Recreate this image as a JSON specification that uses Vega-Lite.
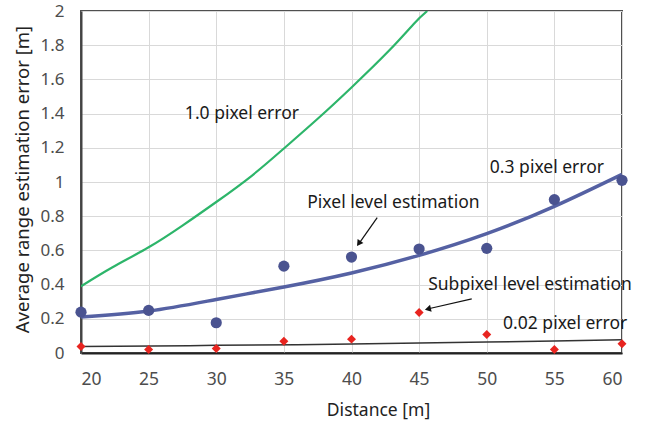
{
  "$schema": "https://vega.github.io/schema/vega-lite/v6.json",
  "width": 541,
  "height": 342,
  "autosize": "none",
  "padding": {"left": 81, "top": 11, "right": 25, "bottom": 68},
  "background": "white",
  "config": {
    "font": "Noto Sans",
    "view": {"stroke": "#505050", "strokeWidth": 2}
  },
  "datasets": {
    "green": [
      {"d": 20, "e": 0.39}, {"d": 22.3, "e": 0.5}, {"d": 25, "e": 0.618}, {"d": 27.5, "e": 0.745},
      {"d": 30, "e": 0.883}, {"d": 32.6, "e": 1.035}, {"d": 35, "e": 1.196}, {"d": 37.5, "e": 1.37},
      {"d": 40, "e": 1.553}, {"d": 42.8, "e": 1.77}, {"d": 44.67, "e": 1.93}, {"d": 45.6, "e": 2.0}
    ],
    "blueCurve": [
      {"d": 20, "e": 0.21}, {"d": 25, "e": 0.245}, {"d": 30, "e": 0.313}, {"d": 35, "e": 0.386},
      {"d": 40, "e": 0.468}, {"d": 45, "e": 0.571}, {"d": 50, "e": 0.698}, {"d": 55, "e": 0.858}, {"d": 60, "e": 1.045}
    ],
    "blackLine": [
      {"d": 20, "e": 0.038}, {"d": 28, "e": 0.042}, {"d": 30, "e": 0.045}, {"d": 36, "e": 0.048}, {"d": 40, "e": 0.053},
      {"d": 45, "e": 0.058}, {"d": 50, "e": 0.064}, {"d": 55, "e": 0.07}, {"d": 60, "e": 0.077}
    ],
    "bluePts": [
      {"d": 20, "e": 0.239}, {"d": 25, "e": 0.249}, {"d": 30, "e": 0.177}, {"d": 35, "e": 0.508},
      {"d": 40, "e": 0.561}, {"d": 45, "e": 0.608}, {"d": 50, "e": 0.612}, {"d": 55, "e": 0.897}, {"d": 60, "e": 1.01}
    ],
    "redPts": [
      {"d": 20, "e": 0.038}, {"d": 25, "e": 0.02}, {"d": 30, "e": 0.026}, {"d": 35, "e": 0.069},
      {"d": 40, "e": 0.081}, {"d": 45, "e": 0.237}, {"d": 50, "e": 0.108}, {"d": 55, "e": 0.02}, {"d": 60, "e": 0.054}
    ],
    "labels": [
      {"d": 31.9, "e": 1.4, "t": "1.0 pixel error"},
      {"d": 54.45, "e": 1.079, "t": "0.3 pixel error"},
      {"d": 43.1, "e": 0.878, "t": "Pixel level estimation"},
      {"d": 53.2, "e": 0.395, "t": "Subpixel level estimation"},
      {"d": 55.8, "e": 0.171, "t": "0.02 pixel error"}
    ],
    "arrows": [
      {"d": 41.9, "e": 0.792, "d2": 40.55, "e2": 0.64},
      {"d": 48.89, "e": 0.317, "d2": 45.7, "e2": 0.259}
    ],
    "arrowHeads": [
      {"d": 40.58, "e": 0.645, "a": 215},
      {"d": 45.72, "e": 0.259, "a": 257}
    ]
  },
  "encoding": {
    "x": {"field": "d", "type": "quantitative", "scale": {"domain": [20, 60], "nice": false},
      "axis": {"values": [20, 25, 30, 35, 40, 45, 50, 55, 60], "format": "~g", "labelOverlap": false,
        "grid": true, "gridColor": "#d9d9d9", "ticks": false, "domain": true, "domainColor": "#222222", "domainWidth": 2,
        "labelFont": "Noto Sans", "labelFontSize": 17.5, "labelColor": "#4d4d4d", "labelPadding": 17,
        "title": "Distance [m]", "titleFont": "Noto Sans", "titleFontSize": 17.5, "titleFontWeight": "normal", "titleColor": "#222222",
        "titleX": 297, "titleY": 57, "titleBaseline": "middle"}},
    "y": {"field": "e", "type": "quantitative", "scale": {"domain": [0, 2], "nice": false},
      "axis": {"values": [0, 0.2, 0.4, 0.6, 0.8, 1, 1.2, 1.4, 1.6, 1.8, 2], "format": "~g", "labelOverlap": false, "labelBound": false,
        "grid": true, "gridColor": "#d9d9d9", "ticks": false, "domain": true, "domainColor": "#444444", "domainWidth": 2,
        "labelFont": "Noto Sans", "labelFontSize": 17, "labelColor": "#4d4d4d", "labelPadding": 17,
        "title": "Average range estimation error [m]", "titleFont": "Noto Sans", "titleFontSize": 18.5, "titleFontWeight": "normal", "titleColor": "#222222",
        "titleX": -59, "titleY": 168, "titleBaseline": "middle"}}
  },
  "layer": [
    {
      "data": {"name": "green"},
      "mark": {"type": "line", "color": "#2db56a", "strokeWidth": 2.2, "interpolate": "natural", "clip": true}
    },
    {
      "data": {"name": "blackLine"},
      "mark": {"type": "line", "color": "#333333", "strokeWidth": 1.5, "interpolate": "linear"}
    },
    {
      "data": {"name": "blueCurve"},
      "mark": {"type": "line", "color": "#5561a3", "strokeWidth": 3.5, "interpolate": "natural"}
    },
    {
      "data": {"name": "bluePts"},
      "mark": {"type": "point", "shape": "circle", "filled": true, "size": 125, "color": "#4a5390", "opacity": 1}
    },
    {
      "data": {"name": "redPts"},
      "mark": {"type": "point", "shape": "diamond", "filled": true, "size": 80, "color": "#e8241f", "opacity": 1}
    },
    {
      "data": {"name": "arrows"},
      "mark": {"type": "rule", "color": "#111111", "strokeWidth": 1.2},
      "encoding": {"x2": {"field": "d2"}, "y2": {"field": "e2"}}
    },
    {
      "data": {"name": "arrowHeads"},
      "mark": {"type": "point", "shape": "triangle", "filled": true, "size": 50, "color": "#111111", "opacity": 1},
      "encoding": {"angle": {"field": "a", "type": "quantitative", "scale": null}}
    },
    {
      "data": {"name": "labels"},
      "mark": {"type": "text", "font": "Noto Sans", "fontSize": 17.5, "color": "#1a1a1a", "align": "center", "baseline": "middle"},
      "encoding": {"text": {"field": "t"}}
    }
  ]
}
